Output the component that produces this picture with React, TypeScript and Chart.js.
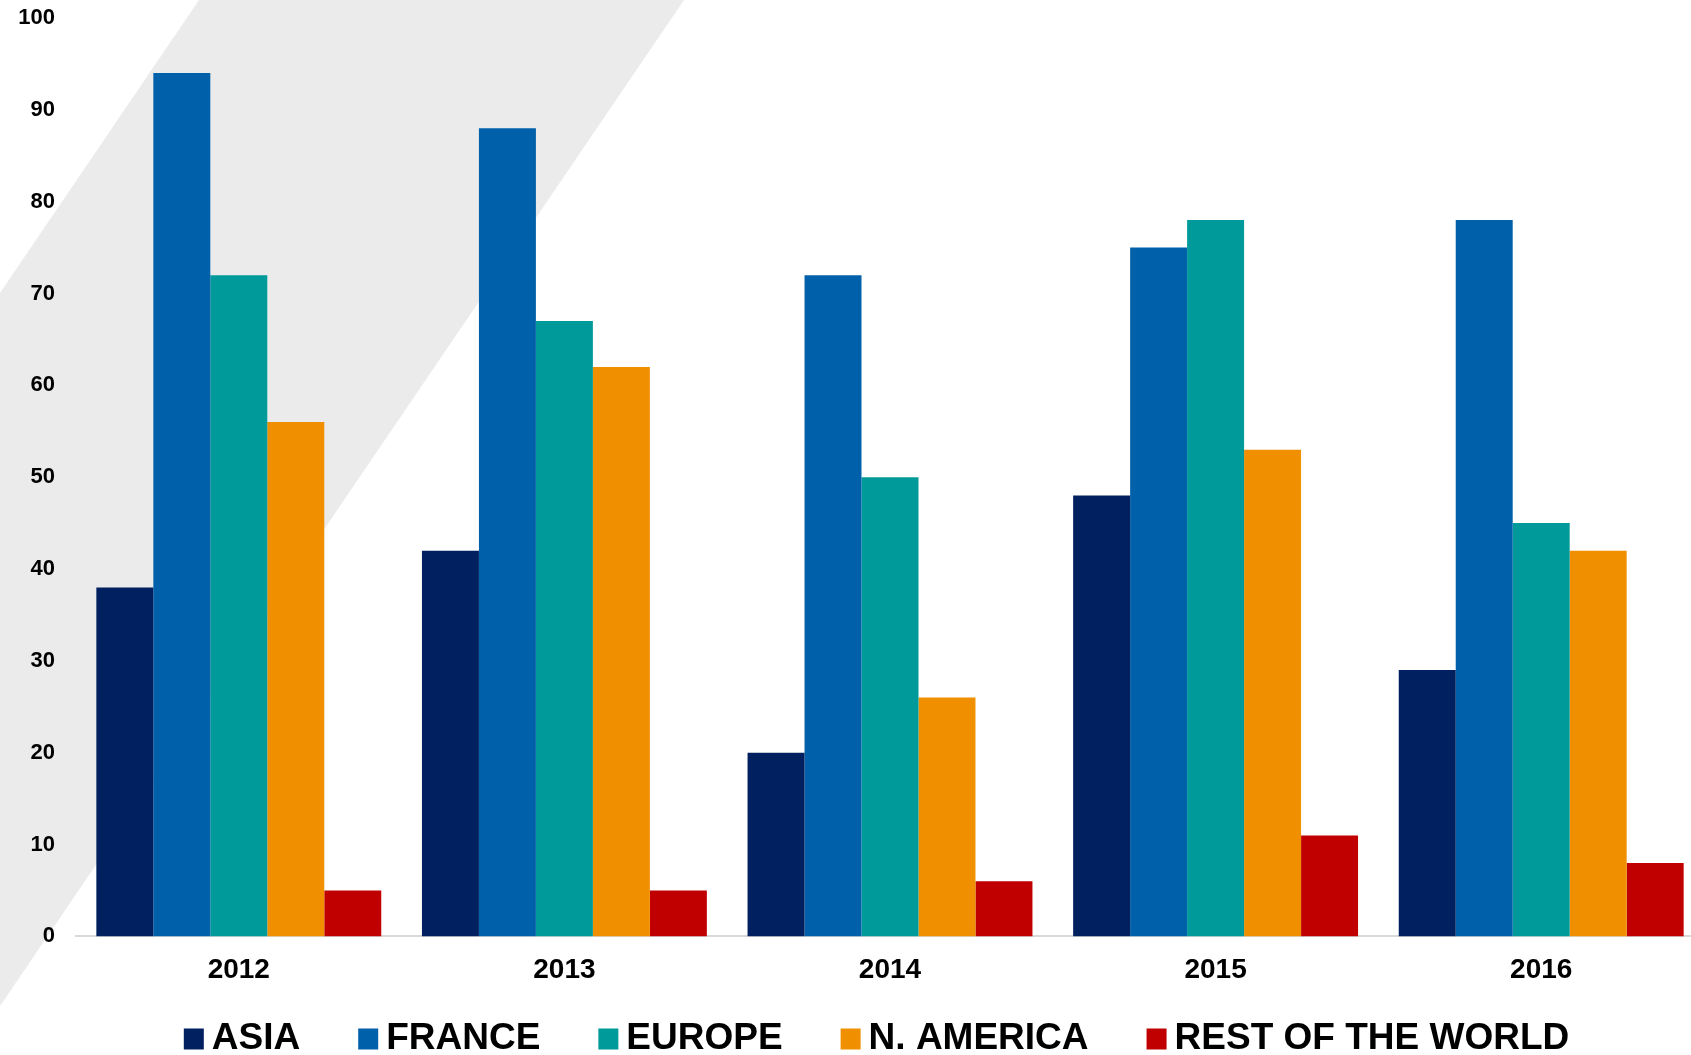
import React, { useEffect, useRef } from "react";
import { Chart, registerables } from "chart.js";

Chart.register(...registerables);

// ---- Data ----
const years = ["2012", "2013", "2014", "2015", "2016"];
const asia = [38, 42, 20, 48, 29];
const france = [94, 88, 72, 75, 78];
const europe = [72, 67, 50, 78, 45];
const nAmerica = [56, 62, 26, 53, 42];
const restOfWorld = [5, 5, 6, 11, 8];
const seriesNames = ["ASIA", "FRANCE", "EUROPE", "N. AMERICA", "REST OF THE WORLD"];
const seriesColors = ["#002060", "#0061AA", "#009A9A", "#F09000", "#C00000"];
const yMin = 0;
const yMax = 100;
const yStep = 10;

const FONT = '"Liberation Sans", Arial, Helvetica, sans-serif';

const backgroundPlugin = {
  id: "bgBand",
  beforeDraw(chart: any) {
    const ctx = chart.ctx;
    ctx.save();
    ctx.fillStyle = "#ffffff";
    ctx.fillRect(0, 0, chart.width, chart.height);
    ctx.fillStyle = "#ebebeb";
    ctx.beginPath();
    ctx.moveTo(199, 0);
    ctx.lineTo(684, 0);
    ctx.lineTo(0, 1006);
    ctx.lineTo(0, 293);
    ctx.closePath();
    ctx.fill();
    ctx.restore();
  },
};

const legendPlugin = {
  id: "customLegend",
  afterDraw(chart: any) {
    const ctx = chart.ctx;
    ctx.save();
    ctx.font = `bold 37px ${FONT}`;
    const boxW = 20;
    const boxH = 21;
    const gap = 8;
    const itemGap = 58;
    const items = chart.data.datasets.map((ds: any) => ({
      label: ds.label,
      color: ds.backgroundColor,
      w: ctx.measureText(ds.label).width,
    }));
    const total =
      items.reduce((s: number, it: any) => s + boxW + gap + it.w, 0) +
      itemGap * (items.length - 1);
    let x = 876.5 - total / 2;
    const cy = 1039;
    ctx.textBaseline = "middle";
    ctx.textAlign = "left";
    for (const it of items) {
      ctx.fillStyle = it.color;
      ctx.fillRect(x, cy - boxH / 2, boxW, boxH);
      x += boxW + gap;
      ctx.fillStyle = "#000000";
      ctx.fillText(it.label, x, cy);
      x += it.w + itemGap;
    }
    ctx.restore();
  },
};

export default function App() {
  const canvasRef = useRef<HTMLCanvasElement | null>(null);

  useEffect(() => {
    if (!canvasRef.current) return;
    const seriesValues = [asia, france, europe, nAmerica, restOfWorld];
    const chart = new Chart(canvasRef.current, {
      type: "bar",
      data: {
        labels: years,
        datasets: seriesNames.map((name, i) => ({
          label: name,
          data: seriesValues[i],
          backgroundColor: seriesColors[i],
          borderWidth: 0,
          categoryPercentage: 0.875,
          barPercentage: 1.0,
        })),
      },
      options: {
        responsive: false,
        animation: false,
        events: [],
        layout: { padding: { left: 0, right: 2, top: 0, bottom: 51 } },
        plugins: {
          legend: { display: false },
          tooltip: { enabled: false },
        },
        scales: {
          x: {
            grid: { display: false, drawTicks: false },
            border: { display: true, color: "#d9d9d9", width: 2 },
            ticks: {
              color: "#000000",
              padding: 17,
              font: { family: FONT, size: 28, weight: "bold" },
            },
          },
          y: {
            min: yMin,
            max: yMax,
            grid: { display: false, drawTicks: false },
            border: { display: false },
            afterFit(scale: any) {
              scale.width = 76;
              scale.paddingTop = 18;
              scale.paddingBottom = 0;
            },
            ticks: {
              stepSize: yStep,
              color: "#000000",
              padding: 21,
              font: { family: FONT, size: 22, weight: "bold" },
            },
          },
        },
      },
      plugins: [backgroundPlugin, legendPlugin],
    } as any);
    return () => chart.destroy();
  }, []);

  return (
    <div
      style={{
        position: "absolute",
        left: 0,
        top: 0,
        width: 1691,
        height: 1055,
        overflow: "hidden",
        background: "#ffffff",
      }}
    >
      <canvas ref={canvasRef} width={1706} height={1055} style={{ display: "block" }} />
    </div>
  );
}
